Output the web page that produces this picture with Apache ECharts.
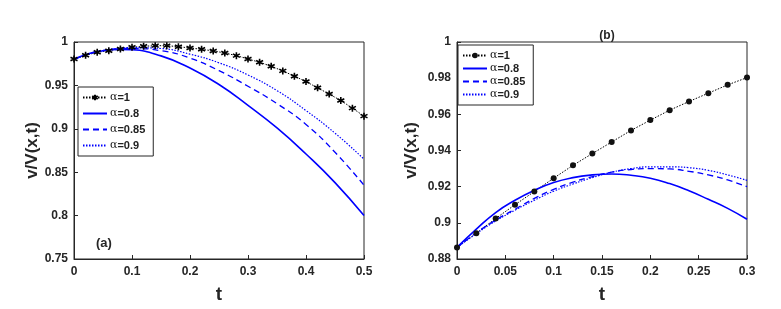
<!DOCTYPE html>
<html><head><meta charset="utf-8">
<script src="https://cdn.jsdelivr.net/npm/echarts@6/dist/echarts.min.js"></script>
<style>html,body{margin:0;padding:0;background:#fff}#c{width:781px;height:309px}</style>
</head><body><div id="c"></div>
<script>
// Panel (a)
const tA = [0,0.02,0.04,0.06,0.08,0.1,0.12,0.14,0.16,0.18,0.2,0.22,0.24,0.26,0.28,0.3,0.32,0.34,0.36,0.38,0.4,0.42,0.44,0.46,0.48,0.5];
const a_alpha1 = [0.9805,0.9847,0.9881,0.990,0.992,0.9939,0.995,0.9958,0.9958,0.9946,0.9931,0.9916,0.9897,0.9874,0.9843,0.9805,0.9766,0.972,0.9667,0.9606,0.9544,0.9472,0.940,0.9326,0.9238,0.9146];
const tAc = [0,0.025,0.05,0.075,0.1,0.15,0.2,0.25,0.3,0.35,0.4,0.45,0.5];
const a_alpha08 = [0.980,0.9865,0.990,0.9915,0.991,0.984,0.970,0.951,0.927,0.901,0.871,0.838,0.800];
const a_alpha085 = [0.980,0.986,0.990,0.992,0.9925,0.990,0.9815,0.967,0.949,0.929,0.905,0.873,0.835];
const a_alpha09 = [0.980,0.986,0.990,0.9925,0.9935,0.9925,0.986,0.976,0.962,0.944,0.921,0.895,0.865];
// Panel (b)
const tB = [0,0.02,0.04,0.06,0.08,0.1,0.12,0.14,0.16,0.18,0.2,0.22,0.24,0.26,0.28,0.3];
const b_alpha1 = [0.8864,0.8943,0.9024,0.9100,0.9173,0.9247,0.9318,0.9383,0.9447,0.9511,0.9568,0.9623,0.9671,0.9717,0.9763,0.9803];
const b_alpha08 = [0.8864,0.8965,0.9057,0.9125,0.918,0.9223,0.925,0.9265,0.927,0.9263,0.9247,0.9217,0.9177,0.913,0.908,0.902];
const b_alpha085 = [0.8864,0.8945,0.9015,0.9075,0.9135,0.9185,0.9225,0.9255,0.928,0.9295,0.930,0.9298,0.9285,0.9265,0.9237,0.920];
const b_alpha09 = [0.8864,0.894,0.901,0.907,0.9125,0.9175,0.9215,0.925,0.928,0.930,0.931,0.931,0.9305,0.929,0.9265,0.9235];
const legendLabels = {a1:'1',a08:'0.8',a085:'0.85',a09:'0.9',b1:'1',b08:'0.8',b085:'0.85',b09:'0.9'};

const zip = (xs, ys) => xs.map((x, i) => [x, ys[i]]);
const FONT = '"Liberation Sans", Arial, sans-serif';
const AX = '#262626';
const BLUE = '#0000ff';
const star = 'path://M0,-1L0,1M-0.87,-0.5L0.87,0.5M-0.87,0.5L0.87,-0.5';

function xAx(idx, max, interval) {
  return {gridIndex: idx, type: 'value', min: 0, max: max, interval: interval,
    name: 't', nameLocation: 'middle', nameGap: 26,
    nameTextStyle: {fontFamily: FONT, fontWeight: 'bold', fontSize: 19, color: AX},
    axisLine: {show: true, lineStyle: {color: AX, width: 1}},
    axisTick: {show: true, inside: true, length: 4, lineStyle: {color: AX}},
    axisLabel: {fontFamily: FONT, fontWeight: 'bold', fontSize: 12, color: AX, margin: 7},
    splitLine: {show: false}};
}
function yAx(idx, min, max, interval, gap) {
  return {gridIndex: idx, type: 'value', min: min, max: max, interval: interval,
    name: 'v/V(x,t)', nameLocation: 'middle', nameGap: gap,
    nameTextStyle: {fontFamily: FONT, fontWeight: 'bold', fontSize: 17, color: AX},
    axisLine: {show: true, lineStyle: {color: AX, width: 1}},
    axisTick: {show: true, inside: true, length: 4, lineStyle: {color: AX}},
    axisLabel: {fontFamily: FONT, fontWeight: 'bold', fontSize: 12, color: AX, margin: 6},
    splitLine: {show: false}};
}
function legend(names, pos, gap) {
  return Object.assign({
    data: names.map((n, i) => i === 0 ? {name: n} : {name: n, itemStyle: {opacity: 0}}),
    orient: 'vertical', itemWidth: 24, itemHeight: 7, itemGap: gap,
    itemStyle: {}, padding: [5, 8, 5, 4],
    borderColor: AX, borderWidth: 1, backgroundColor: '#fff',
    selectedMode: false,
    formatter: n => '{g|α}{b|=' + legendLabels[n] + '}',
    textStyle: {padding: [0, 0, 0, -2], rich: {
      g: {fontFamily: '"DejaVu Serif", serif', fontSize: 11, color: '#222'},
      b: {fontFamily: FONT, fontWeight: 'bold', fontSize: 11, color: '#222'}
    }}
  }, pos);
}
function blue(name, xi, data, type, w) {
  return {name: name, type: 'line', xAxisIndex: xi, yAxisIndex: xi, data: data,
    smooth: true, showSymbol: false, symbol: 'none',
    lineStyle: {color: BLUE, width: w, type: type}, itemStyle: {color: BLUE}};
}

const option = {
  animation: false,
  backgroundColor: '#fff',
  grid: [
    {left: 74, top: 42, width: 290, height: 218, show: true, borderColor: AX, borderWidth: 1},
    {left: 457, top: 42, width: 290, height: 218, show: true, borderColor: AX, borderWidth: 1}
  ],
  title: [
    {text: '(b)', left: 602, top: 25, textAlign: 'center',
      textStyle: {fontFamily: FONT, fontWeight: 'bold', fontSize: 12, color: AX}},
    {text: '(a)', left: 91, top: 232,
      textStyle: {fontFamily: FONT, fontWeight: 'bold', fontSize: 13, color: AX}}
  ],
  xAxis: [xAx(0, 0.5, 0.1), xAx(1, 0.3, 0.05)],
  yAxis: [yAx(0, 0.75, 1, 0.05, 33), yAx(1, 0.88, 1, 0.02, 37)],
  legend: [
    legend(['a1','a08','a085','a09'], {left: 78, top: 87}, 5),
    legend(['b1','b08','b085','b09'], {left: 458, top: 45}, 2)
  ],
  series: [
    {name: 'a1', type: 'line', xAxisIndex: 0, yAxisIndex: 0, data: zip(tA, a_alpha1),
      symbol: star, symbolSize: 7,
      lineStyle: {color: '#000', width: 1, type: [1.5, 1.5]},
      itemStyle: {color: '#000', borderColor: '#000', borderWidth: 1.6}},
    blue('a08', 0, zip(tAc, a_alpha08), 'solid', 1.6),
    blue('a085', 0, zip(tAc, a_alpha085), [6, 4], 1.3),
    blue('a09', 0, zip(tAc, a_alpha09), [1.5, 1.5], 1.2),
    {name: 'b1', type: 'line', xAxisIndex: 1, yAxisIndex: 1, data: zip(tB, b_alpha1),
      symbol: 'circle', symbolSize: 6,
      lineStyle: {color: '#000', width: 1, type: [1.5, 1.5]},
      itemStyle: {color: '#111'}},
    blue('b08', 1, zip(tB, b_alpha08), 'solid', 1.6),
    blue('b085', 1, zip(tB, b_alpha085), [6, 4], 1.3),
    blue('b09', 1, zip(tB, b_alpha09), [1.5, 1.5], 1.2)
  ]
};
echarts.init(document.getElementById('c'), null, {renderer: 'canvas'}).setOption(option);
</script>
</body></html>
